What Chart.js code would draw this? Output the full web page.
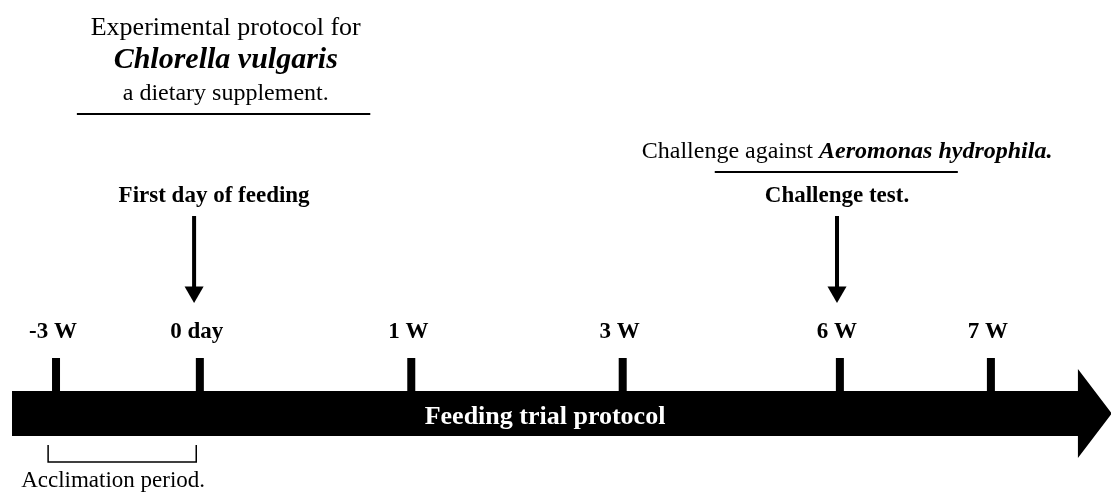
<!DOCTYPE html>
<html>
<head>
<meta charset="utf-8">
<script src="https://cdn.jsdelivr.net/npm/chart.js@4.4.1/dist/chart.umd.min.js"></script>
<style>
  html, body { margin: 0; padding: 0; background: #fff; }
  #wrap { width: 1111px; height: 500px; position: relative; }
</style>
</head>
<body>
<div id="wrap"><canvas id="timeline"></canvas></div>
<script>
// timeline data (x in "slot" units along the protocol bar)
const tickLabels = ['-3 W', '0 day', '1 W', '3 W', '6 W', '7 W'];
const tickPos = [0, 2, 4.94, 7.88, 10.9, 13];
const eventLabels = ['First day of feeding', 'Challenge test.'];
const eventPos = [1.92, 10.86];
const periodLabel = 'Acclimation period.';
const periodRange = [-0.11, 1.95];
const titleLines = ['Experimental protocol for', 'Chlorella vulgaris', 'a dietary supplement.'];
const challengeNote = ['Challenge against ', 'Aeromonas hydrophila.'];
const barLabel = 'Feeding trial protocol';

// layout (y is in pixel rows via a reversed scale)
const X_MIN = -0.779, X_MAX = 14.67;
const BAR_LEFT = -0.612, HEAD_START = 14.21, HEAD_TIP = 14.68;
const BAR_TOP = 391, BAR_BOTTOM = 436, HEAD_TOP = 369, HEAD_BOTTOM = 458;
const TICK_TOP = 358;
const ARROW_TOP = 216, ARROW_HEAD_Y = 292;
const SERIF = '"Liberation Serif", "Times New Roman", serif';

function tickDatasets(){
  return tickPos.map(p => ({
    type: 'line',
    data: [{x: p, y: TICK_TOP}, {x: p, y: BAR_TOP + 2}],
    borderColor: '#000',
    borderWidth: 8,
    borderCapStyle: 'butt',
    pointRadius: 0
  }));
}

function arrowDatasets(){
  return eventPos.map(p => ({
    type: 'line',
    data: [{x: p, y: ARROW_TOP}, {x: p, y: ARROW_HEAD_Y - 4}, {x: p, y: ARROW_HEAD_Y}],
    borderColor: '#000',
    borderWidth: 4,
    borderCapStyle: 'butt',
    pointStyle: 'triangle',
    rotation: 180,
    pointRadius: [0, 0, 11],
    pointBorderWidth: 0,
    pointBackgroundColor: '#000'
  }));
}

const timelineBar = {
  id: 'timelineBar',
  beforeDatasetsDraw(chart){
    const {ctx, scales: {x, y}} = chart;
    ctx.save();
    ctx.fillStyle = '#000';
    ctx.beginPath();
    ctx.moveTo(x.getPixelForValue(BAR_LEFT), y.getPixelForValue(BAR_TOP));
    ctx.lineTo(x.getPixelForValue(HEAD_START), y.getPixelForValue(BAR_TOP));
    ctx.lineTo(x.getPixelForValue(HEAD_START), y.getPixelForValue(HEAD_TOP));
    ctx.lineTo(x.getPixelForValue(HEAD_TIP), y.getPixelForValue((HEAD_TOP + HEAD_BOTTOM) / 2));
    ctx.lineTo(x.getPixelForValue(HEAD_START), y.getPixelForValue(HEAD_BOTTOM));
    ctx.lineTo(x.getPixelForValue(HEAD_START), y.getPixelForValue(BAR_BOTTOM));
    ctx.lineTo(x.getPixelForValue(BAR_LEFT), y.getPixelForValue(BAR_BOTTOM));
    ctx.closePath();
    ctx.fill();

    // acclimation bracket
    ctx.strokeStyle = '#000';
    ctx.lineWidth = 1.5;
    ctx.beginPath();
    ctx.moveTo(x.getPixelForValue(periodRange[0]), y.getPixelForValue(445));
    ctx.lineTo(x.getPixelForValue(periodRange[0]), y.getPixelForValue(462));
    ctx.lineTo(x.getPixelForValue(periodRange[1]), y.getPixelForValue(462));
    ctx.lineTo(x.getPixelForValue(periodRange[1]), y.getPixelForValue(445));
    ctx.stroke();
    ctx.restore();
  }
};

const timelineText = {
  id: 'timelineText',
  afterDatasetsDraw(chart){
    const {ctx, scales: {x, y}} = chart;
    ctx.save();
    ctx.textBaseline = 'alphabetic';
    ctx.textAlign = 'center';
    ctx.fillStyle = '#000';

    // title block
    const tx = x.getPixelForValue(2.36);
    ctx.font = '26px ' + SERIF;
    ctx.fillText(titleLines[0], tx, y.getPixelForValue(35));
    ctx.font = 'italic bold 30px ' + SERIF;
    ctx.fillText(titleLines[1], tx, y.getPixelForValue(68));
    ctx.font = '24px ' + SERIF;
    ctx.fillText(titleLines[2], tx, y.getPixelForValue(100));
    ctx.fillRect(x.getPixelForValue(0.29), y.getPixelForValue(113), x.getPixelForValue(4.37) - x.getPixelForValue(0.29), 2);

    // challenge note, mixed fonts
    const f1 = '24px ' + SERIF, f2 = 'italic bold 24px ' + SERIF;
    ctx.font = f1; const w1 = ctx.measureText(challengeNote[0]).width;
    ctx.font = f2; const w2 = ctx.measureText(challengeNote[1]).width;
    let cx = x.getPixelForValue(11.0) - (w1 + w2) / 2;
    ctx.textAlign = 'left';
    ctx.font = f1; ctx.fillText(challengeNote[0], cx, y.getPixelForValue(158));
    ctx.font = f2; ctx.fillText(challengeNote[1], cx + w1, y.getPixelForValue(158));
    ctx.fillRect(x.getPixelForValue(9.16), y.getPixelForValue(171), x.getPixelForValue(12.54) - x.getPixelForValue(9.16), 2);
    ctx.textAlign = 'center';

    // event labels above arrows
    ctx.font = 'bold 23px ' + SERIF;
    ctx.fillText(eventLabels[0], x.getPixelForValue(eventPos[0]) + 20, y.getPixelForValue(202));
    ctx.fillText(eventLabels[1], x.getPixelForValue(eventPos[1]), y.getPixelForValue(202));

    // tick labels
    tickLabels.forEach((t, i) => {
      ctx.fillText(t, x.getPixelForValue(tickPos[i]) - 3, y.getPixelForValue(338));
    });

    // bar label
    ctx.fillStyle = '#fff';
    ctx.font = 'bold 26px ' + SERIF;
    ctx.fillText(barLabel, x.getPixelForValue(6.8), y.getPixelForValue(424));

    // period label
    ctx.fillStyle = '#000';
    ctx.font = '23px ' + SERIF;
    ctx.fillText(periodLabel, x.getPixelForValue(periodRange[0]) + 65, y.getPixelForValue(487));
    ctx.restore();
  }
};

new Chart(document.getElementById('timeline'), {
  type: 'line',
  data: { datasets: [...tickDatasets(), ...arrowDatasets()] },
  options: {
    responsive: true,
    maintainAspectRatio: false,
    animation: false,
    events: [],
    layout: { padding: 0, autoPadding: false },
    scales: {
      x: { type: 'linear', min: X_MIN, max: X_MAX, display: false },
      y: { type: 'linear', min: 0, max: 500, reverse: true, display: false }
    },
    plugins: { legend: { display: false }, tooltip: { enabled: false } }
  },
  plugins: [timelineBar, timelineText]
});
</script>
</body>
</html>
